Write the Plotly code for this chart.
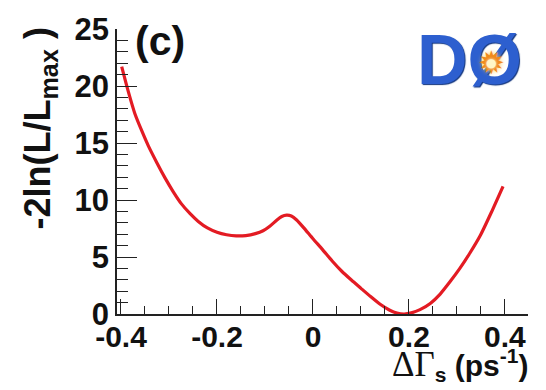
import plotly.graph_objects as go

# Likelihood scan: -2 ln(L/Lmax) versus DeltaGamma_s
delta_gamma = [-0.3985, -0.385, -0.371, -0.357, -0.343, -0.325, -0.308, -0.291,
               -0.274, -0.256, -0.239, -0.22, -0.20, -0.18, -0.16, -0.14,
               -0.12, -0.104, -0.09, -0.075, -0.065, -0.055, -0.045, -0.034,
               -0.02, 0.0, 0.02, 0.04, 0.06, 0.08, 0.10, 0.12,
               0.14, 0.16, 0.175, 0.19, 0.205, 0.223, 0.245, 0.265,
               0.285, 0.306, 0.327, 0.348, 0.372, 0.396]
neg2lnL = [21.7, 19.55, 17.57, 16.1, 14.75, 13.25, 11.92, 10.72,
           9.66, 8.8, 8.12, 7.55, 7.17, 6.95, 6.85, 6.88,
           7.05, 7.3, 7.7, 8.25, 8.55, 8.67, 8.6, 8.25,
           7.6, 6.6, 5.65, 4.65, 3.75, 2.98, 2.25, 1.53,
           0.85, 0.33, 0.08, 0.0, 0.1, 0.38, 0.95, 1.75,
           2.8, 4.0, 5.35, 6.84, 8.95, 11.2]

x_tickvals = [-0.4, -0.2, 0, 0.2, 0.4]
x_ticktext = ["-0.4", "-0.2", "0", "0.2", "0.4"]
y_tickvals = [0, 5, 10, 15, 20, 25]
y_ticktext = ["0", "5", "10", "15", "20", "25"]

W, H = 546, 390
L, R, T, B = 117, 18, 19, 76
PW, PH = W - L - R, H - T - B


def px(x):
    return (x - L) / PW


def py(y):
    return (H - B - y) / PH


FONT = "Liberation Sans"

fig = go.Figure()
fig.add_trace(go.Scatter(
    x=delta_gamma, y=neg2lnL, mode="lines",
    line=dict(color="#e31b23", width=3.2, shape="spline", smoothing=0.6),
    hoverinfo="skip", showlegend=False,
))

fig.update_xaxes(
    range=[-0.4083, 0.448], showgrid=False, zeroline=False,
    showline=True, linecolor="#222", linewidth=1.5,
    ticks="inside", ticklen=15, tickwidth=1.3, tickcolor="#222",
    tickvals=x_tickvals, ticktext=x_ticktext,
    minor=dict(dtick=0.05, tick0=0, ticks="inside", ticklen=8,
               tickwidth=1.2, tickcolor="#222", showgrid=False),
    tickfont=dict(family=FONT, size=30, color="#111", weight="bold"),
    ticklabelstandoff=-5,
)
fig.update_yaxes(
    range=[0, 25], showgrid=False, zeroline=False,
    showline=True, linecolor="#222", linewidth=1.5,
    ticks="inside", ticklen=20, tickwidth=1.3, tickcolor="#222",
    tickvals=y_tickvals, ticktext=y_ticktext,
    minor=dict(dtick=1, tick0=0, ticks="inside", ticklen=11,
               tickwidth=1.2, tickcolor="#222", showgrid=False),
    tickfont=dict(family=FONT, size=31, color="#111", weight="bold"),
    ticklabelstandoff=0,
)

annotations = [
    # panel label
    dict(x=px(133), y=py(31), xref="paper", yref="paper", xanchor="left",
         yanchor="middle", showarrow=False, text="<b>(c)</b>",
         font=dict(family=FONT, size=41, color="#111")),
    # y-axis title
    dict(x=px(40), y=py(122), xref="paper", yref="paper", xanchor="center",
         yanchor="middle", showarrow=False, textangle=-90,
         text="<b>-2ln(L/L<sub>max</sub> )</b>",
         font=dict(family=FONT, size=36, color="#111")),
    # x-axis title
    dict(x=px(530), y=py(367), xref="paper", yref="paper", xanchor="right",
         yanchor="middle", showarrow=False,
         text=("<span style='font-family:Liberation Serif;font-size:35px'>"
               "\u0394\u0393</span>"
               "<sub><b>s</b></sub><b> (ps<sup>-1</sup>)</b>"),
         font=dict(family=FONT, size=30, color="#111")),
    # experiment logo lettering
    dict(x=px(469), y=py(51), xref="paper", yref="paper", xanchor="center",
         yanchor="middle", showarrow=False, text="<b>DØ</b>",
         font=dict(family="Liberation Sans", size=70,
                   color="#2d5fcf", shadow="1px 1px 1px #12357e")),
    # burst inside the Ø
    dict(x=px(491), y=py(54), xref="paper", yref="paper", xanchor="center",
         yanchor="middle", showarrow=False, text="\u2739",
         font=dict(family="DejaVu Sans", size=32, color="#f08a1c",
                   shadow="0px 0px 4px #ffd060")),
    dict(x=px(491), y=py(54), xref="paper", yref="paper", xanchor="center",
         yanchor="middle", showarrow=False, text="\u25cf",
         font=dict(family="DejaVu Sans", size=12, color="#fff6c8",
                   shadow="0px 0px 3px #ffffff")),
]

fig.update_layout(
    width=W, height=H,
    margin=dict(l=L, r=R, t=T, b=B),
    paper_bgcolor="white", plot_bgcolor="white",
    annotations=annotations,
)

fig.write_html("out.html")
